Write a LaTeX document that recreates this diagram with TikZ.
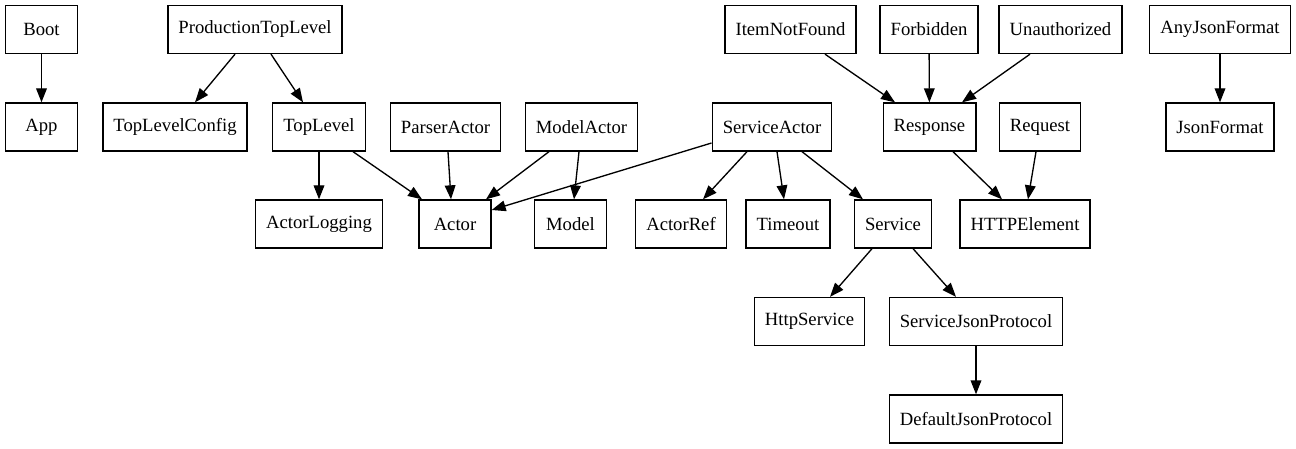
\documentclass[tikz,border=0pt]{standalone}
\usepackage{fontspec}
\setmainfont{Liberation Serif}
\usepackage{tikz}
\usetikzlibrary{arrows.meta, calc}
\definecolor{mydark}{RGB}{0,0,0}
\tikzset{
  box/.style={rectangle, draw=mydark, fill=white, line width=1pt,
    minimum width=54pt, minimum height=36pt, inner xsep=7.92pt,
    align=center, font=\fontsize{14}{16}\selectfont},
  arrow/.style={-{Triangle[length=10.5pt, width=8pt]}, line width=1pt, color=mydark}
}

\begin{document}
\begin{tikzpicture}[x=0.75pt, y=-0.75pt]
  \useasboundingbox (0,0) rectangle (1296,449);

  % Rank 1
  \node[box] (boot) at (41.5,29.5) {Boot};
  \node[box] (ptl) at (255,29.5) {ProductionTopLevel};
  \node[box] (notfound) at (790.5,29.5) {ItemNotFound};
  \node[box] (forbidden) at (929,29.5) {Forbidden};
  \node[box] (unauth) at (1060.5,29.5) {Unauthorized};
  \node[box] (anyjson) at (1220,29.5) {AnyJsonFormat};

  % Rank 2
  \node[box] (app) at (41.5,127) {App};
  \node[box] (tlconfig) at (175,127) {TopLevelConfig};
  \node[box] (toplevel) at (319,127) {TopLevel};
  \node[box] (parser) at (445.5,127) {ParserActor};
  \node[box] (modelactor) at (581.5,127) {ModelActor};
  \node[box] (srvactor) at (772,127) {ServiceActor};
  \node[box] (response) at (929.5,127) {Response};
  \node[box] (request) at (1040,127) {Request};
  \node[box] (jsonfmt) at (1220,127) {JsonFormat};

  % Rank 3
  \node[box] (logging) at (319,224) {ActorLogging};
  \node[box] (actor) at (455,224) {Actor};
  \node[box] (model) at (570.5,224) {Model};
  \node[box] (actorref) at (681,224) {ActorRef};
  \node[box] (timeout) at (788,224) {Timeout};
  \node[box] (service) at (893,224) {Service};
  \node[box] (httpel) at (1025,224) {HTTPElement};

  % Rank 4 and 5
  \node[box] (httpsrv) at (809.5,321.5) {HttpService};
  \node[box] (srvjson) at (976,321.5) {ServiceJsonProtocol};
  \node[box] (defjson) at (976,419) {DefaultJsonProtocol};

  % Edges
  \draw[arrow] (boot) -- (app);
  \draw[arrow] ($(ptl.south)+(-20,0)$) -- ($(tlconfig.north)+(20,0)$);
  \draw[arrow] ($(ptl.south)+(16,0)$) -- ($(toplevel.north)+(-16,0)$);
  \draw[arrow] (toplevel) -- (logging);
  \draw[arrow] ($(toplevel.south)+(34,0)$) -- ($(actor.north)+(-33,0)$);
  \draw[arrow] ($(parser.south)+(2.5,0)$) -- ($(actor.north)+(-4,0)$);
  \draw[arrow] ($(modelactor.south)+(-32.5,0)$) -- ($(actor.north)+(31,0)$);
  \draw[arrow] ($(modelactor.south)+(-2.5,0)$) -- ($(model.north)+(3.5,0)$);
  \draw[arrow] ($(srvactor.west)+(0,16)$) -- ($(actor.east)+(0,-14)$);
  \draw[arrow] ($(srvactor.south)+(-25,0)$) -- ($(actorref.north)+(22,0)$);
  \draw[arrow] ($(srvactor.south)+(5,0)$) -- ($(timeout.north)+(-4,0)$);
  \draw[arrow] ($(srvactor.south)+(30,0)$) -- ($(service.north)+(-30,0)$);
  \draw[arrow] ($(service.south)+(-21,0)$) -- ($(httpsrv.north)+(20.5,0)$);
  \draw[arrow] ($(service.south)+(20,0)$) -- ($(srvjson.north)+(-20,0)$);
  \draw[arrow] (srvjson) -- (defjson);
  \draw[arrow] ($(notfound.south)+(34.5,0)$) -- ($(response.north)+(-34.5,0)$);
  \draw[arrow] (forbidden) -- (response);
  \draw[arrow] ($(unauth.south)+(-30.5,0)$) -- ($(response.north)+(32.5,0)$);
  \draw[arrow] ($(response.south)+(23.5,0)$) -- ($(httpel.north)+(-23,0)$);
  \draw[arrow] ($(request.south)+(-4,0)$) -- ($(httpel.north)+(3,0)$);
  \draw[arrow] (anyjson) -- (jsonfmt);
\end{tikzpicture}
\end{document}
